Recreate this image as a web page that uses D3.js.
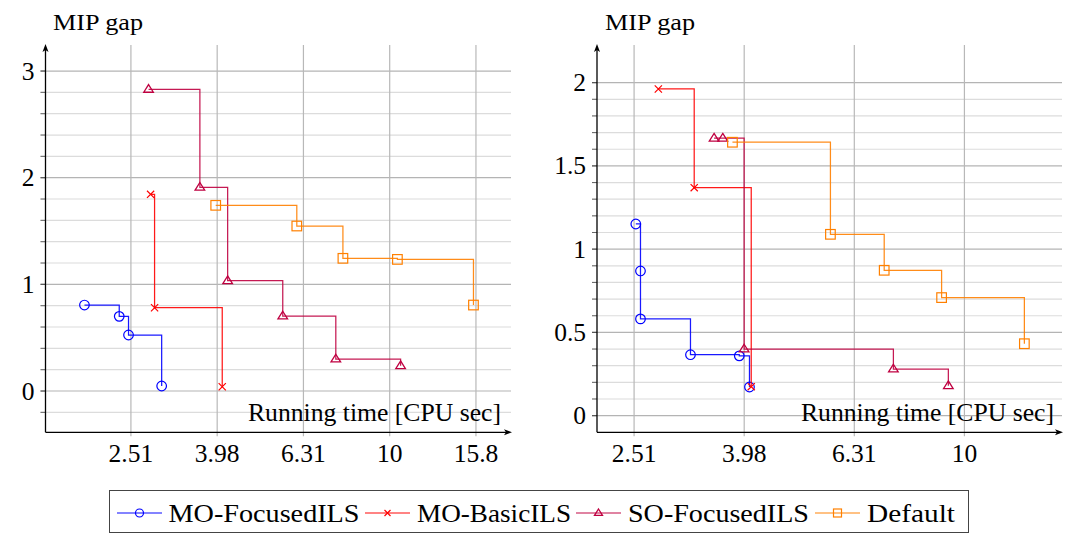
<!DOCTYPE html>
<html>
<head>
<meta charset="utf-8">
<script src="https://cdn.jsdelivr.net/npm/d3@7"></script>
<style>
  html, body { margin: 0; padding: 0; background: #fff; }
  svg { display: block; }
</style>
</head>
<body>
<svg id="chart" width="1073" height="535"></svg>
<script>
// ---- data: MIP gap vs. running time (CPU sec), two instances ----
const seriesNames = ["MO-FocusedILS", "MO-BasicILS", "SO-FocusedILS", "Default"];
const seriesColors = ["#0000ff", "#ff0000", "#bf0040", "#ff8000"];
const seriesMarks = ["circle", "cross", "triangle", "square"];

// left instance
const moFocusedTimeA = [1.96, 2.36, 2.48, 2.96];
const moFocusedGapA  = [0.806, 0.700, 0.525, 0.047];
const moBasicTimeA   = [2.79, 2.85, 4.09];
const moBasicGapA    = [1.844, 0.781, 0.040];
const soFocusedTimeA = [2.76, 3.63, 4.21, 5.65, 7.50, 10.6];
const soFocusedGapA  = [2.828, 1.910, 1.034, 0.703, 0.300, 0.237];
const defaultTimeA   = [3.95, 6.09, 7.79, 10.42, 15.64];
const defaultGapA    = [1.741, 1.547, 1.244, 1.234, 0.806];

// right instance
const moFocusedTimeB = [2.53, 2.58, 2.58, 3.18, 3.90, 4.07];
const moFocusedGapB  = [1.151, 0.869, 0.581, 0.366, 0.359, 0.172];
const moBasicTimeB   = [2.78, 3.23, 4.10];
const moBasicGapB    = [1.962, 1.369, 0.174];
const soFocusedTimeB = [3.51, 3.64, 3.98, 7.43, 9.35];
const soFocusedGapB  = [1.666, 1.666, 0.400, 0.280, 0.180];
const defaultTimeB   = [3.79, 5.71, 7.15, 9.09, 12.85];
const defaultGapB    = [1.642, 1.089, 0.873, 0.709, 0.432];

// axis ticks
const xTickValuesA = [Math.pow(10, 0.4), Math.pow(10, 0.6), Math.pow(10, 0.8), 10, Math.pow(10, 1.2)];
const xTickLabelsA = ["2.51", "3.98", "6.31", "10", "15.8"];
const xTickValuesB = [Math.pow(10, 0.4), Math.pow(10, 0.6), Math.pow(10, 0.8), 10];
const xTickLabelsB = ["2.51", "3.98", "6.31", "10"];
const yMajorA = [0, 1, 2, 3];
const yMajorLabelsA = ["0", "1", "2", "3"];
const yMajorB = [0, 0.5, 1, 1.5, 2];
const yMajorLabelsB = ["0", "0.5", "1", "1.5", "2"];

const yLabel = "MIP gap";
const xLabel = "Running time [CPU sec]";

const FONT = "'Liberation Serif', 'DejaVu Serif', 'Times New Roman', serif";

// ---- layout ----
const svg = d3.select("#chart").attr("font-family", FONT);

const panels = [
  {
    xDomain: [1.592, 19.11], xRange: [45.5, 511],
    yDomain: [-0.387, 3.244], yRange: [432.3, 45],
    xTicks: xTickValuesA, xLabels: xTickLabelsA,
    yTicks: yMajorA, yLabels: yMajorLabelsA,
    yMinorStep: 0.2, yGridMin: -0.2, yGridMax: 3.0,
    titleX: 53, xLabelEnd: 501,
    series: [
      [moFocusedTimeA, moFocusedGapA],
      [moBasicTimeA, moBasicGapA],
      [soFocusedTimeA, soFocusedGapA],
      [defaultTimeA, defaultGapA]
    ]
  },
  {
    xDomain: [2.151, 15.04], xRange: [597, 1062],
    yDomain: [-0.1, 2.226], yRange: [432.3, 45],
    xTicks: xTickValuesB, xLabels: xTickLabelsB,
    yTicks: yMajorB, yLabels: yMajorLabelsB,
    yMinorStep: 0.1, yGridMin: 0, yGridMax: 2.0,
    titleX: 605, xLabelEnd: 1054,
    series: [
      [moFocusedTimeB, moFocusedGapB],
      [moBasicTimeB, moBasicGapB],
      [soFocusedTimeB, soFocusedGapB],
      [defaultTimeB, defaultGapB]
    ]
  }
];

function drawMark(g, kind, x, y, color, size) {
  const s = size;
  if (kind === "circle") {
    g.append("circle").attr("cx", x).attr("cy", y).attr("r", s)
      .attr("fill", "none").attr("stroke", color).attr("stroke-width", 1.2);
  } else if (kind === "square") {
    g.append("rect").attr("x", x - s).attr("y", y - s).attr("width", 2 * s).attr("height", 2 * s)
      .attr("fill", "none").attr("stroke", color).attr("stroke-width", 1.2);
  } else if (kind === "triangle") {
    g.append("path")
      .attr("d", `M${x},${y - s}L${x + s},${y + s * 0.6}L${x - s},${y + s * 0.6}Z`)
      .attr("fill", "none").attr("stroke", color).attr("stroke-width", 1.3);
  } else if (kind === "cross") {
    const c = s * 0.75;
    g.append("path")
      .attr("d", `M${x - c},${y - c}L${x + c},${y + c}M${x - c},${y + c}L${x + c},${y - c}`)
      .attr("fill", "none").attr("stroke", color).attr("stroke-width", 1.2);
  }
}

function label(g, x, y, size, txt) {
  return g.append("text").attr("x", x).attr("y", y)
    .attr("font-family", FONT).style("font-family", FONT)
    .attr("font-size", size).attr("fill", "#000").text(txt);
}

panels.forEach(p => {
  const x = d3.scaleLog().domain(p.xDomain).range(p.xRange);
  const y = d3.scaleLinear().domain(p.yDomain).range(p.yRange);
  const g = svg.append("g");
  const [x0, x1] = p.xRange;
  const [yb, yt] = p.yRange;

  // minor horizontal grid
  const minor = d3.range(p.yGridMin, p.yGridMax + 1e-9, p.yMinorStep)
    .filter(v => !p.yTicks.some(t => Math.abs(t - v) < 1e-6));
  g.selectAll(".yminor").data(minor).enter().append("line")
    .attr("x1", x0 - 5).attr("x2", x1)
    .attr("y1", d => y(d)).attr("y2", d => y(d))
    .attr("stroke", "#dcdcdc").attr("stroke-width", 1.2);
  // major horizontal grid
  g.selectAll(".ymajor").data(p.yTicks).enter().append("line")
    .attr("x1", x0 - 5).attr("x2", x1)
    .attr("y1", d => y(d)).attr("y2", d => y(d))
    .attr("stroke", "#b4b4b4").attr("stroke-width", 1.2);
  // tick stubs left of the axis
  g.selectAll(".ymt").data(minor).enter().append("line")
    .attr("x1", x0 - 5).attr("x2", x0)
    .attr("y1", d => y(d)).attr("y2", d => y(d))
    .attr("stroke", "#666").attr("stroke-width", 1);
  g.selectAll(".yMt").data(p.yTicks).enter().append("line")
    .attr("x1", x0 - 5).attr("x2", x0)
    .attr("y1", d => y(d)).attr("y2", d => y(d))
    .attr("stroke", "#555").attr("stroke-width", 1.2);
  // vertical grid
  g.selectAll(".xgrid").data(p.xTicks).enter().append("line")
    .attr("x1", d => x(d)).attr("x2", d => x(d))
    .attr("y1", yt).attr("y2", yb + 4)
    .attr("stroke", "#b8b8b8").attr("stroke-width", 1.2);

  // axes with arrowheads
  g.append("line").attr("x1", x0).attr("x2", x0).attr("y1", yb).attr("y2", yt + 2)
    .attr("stroke", "#000").attr("stroke-width", 1.3);
  g.append("path").attr("d", `M${x0},${yt - 1}L${x0 + 3},${yt + 7}L${x0},${yt + 5}L${x0 - 3},${yt + 7}Z`)
    .attr("fill", "#000");
  g.append("line").attr("x1", x0).attr("x2", x1 - 2).attr("y1", yb).attr("y2", yb)
    .attr("stroke", "#000").attr("stroke-width", 1.3);
  g.append("path").attr("d", `M${x1 + 1},${yb}L${x1 - 7},${yb - 3}L${x1 - 5},${yb}L${x1 - 7},${yb + 3}Z`)
    .attr("fill", "#000");

  // tick labels
  p.xTicks.forEach((t, i) => {
    label(g, x(t), 462, 25.5, p.xLabels[i]).attr("text-anchor", "middle");
  });
  p.yTicks.forEach((t, i) => {
    label(g, x0 - 11, y(t) + 8.5, 25.5, p.yLabels[i]).attr("text-anchor", "end");
  });

  // axis labels
  label(g, p.titleX, 29.5, 23, yLabel)
    .attr("textLength", 90).attr("lengthAdjust", "spacingAndGlyphs");
  label(g, p.xLabelEnd - 253, 421, 25, xLabel)
    .attr("textLength", 253).attr("lengthAdjust", "spacingAndGlyphs");

  // step lines and marks
  const line = d3.line().curve(d3.curveStepAfter).x(d => x(d[0])).y(d => y(d[1]));
  p.series.forEach((s, si) => {
    const pts = s[0].map((t, i) => [t, s[1][i]]);
    g.append("path").attr("d", line(pts))
      .attr("fill", "none").attr("stroke", seriesColors[si])
      .attr("stroke-width", 1.25).attr("stroke-opacity", 0.9);
    const mg = g.append("g");
    pts.forEach(d => drawMark(mg, seriesMarks[si], x(d[0]), y(d[1]), seriesColors[si], 4.8));
  });
});

// ---- legend ----
const legend = svg.append("g");
legend.append("rect").attr("x", 109.5).attr("y", 490.5).attr("width", 859).attr("height", 42)
  .attr("fill", "#fff").attr("stroke", "#444").attr("stroke-width", 1);
const legendSampleX = [117, 365, 576, 815];
const legendTextX = [168.5, 417, 628, 867];
const legendTextW = [191, 154, 181, 88];
const legendY = 513;
seriesNames.forEach((name, i) => {
  legend.append("line").attr("x1", legendSampleX[i]).attr("x2", legendSampleX[i] + 45)
    .attr("y1", legendY).attr("y2", legendY)
    .attr("stroke", seriesColors[i]).attr("stroke-width", 1.3).attr("stroke-opacity", 0.65);
  drawMark(legend, seriesMarks[i], legendSampleX[i] + 22.5, legendY, seriesColors[i], 4);
  label(legend, legendTextX[i], legendY + 9, 25.5, name)
    .attr("textLength", legendTextW[i]).attr("lengthAdjust", "spacingAndGlyphs");
});
</script>
</body>
</html>
